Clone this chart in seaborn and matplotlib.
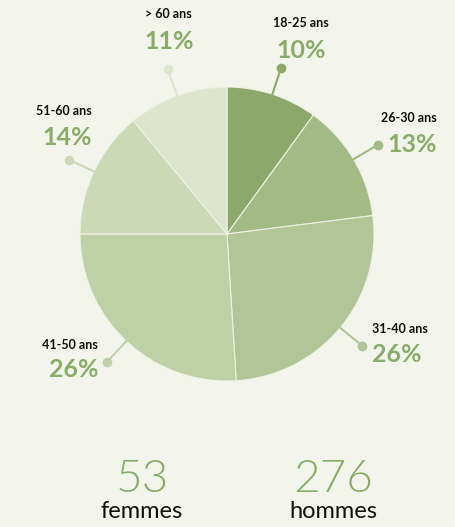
import numpy as np
import seaborn as sns
import matplotlib.pyplot as plt

# data
ages = ["18-25 ans", "26-30 ans", "31-40 ans", "41-50 ans", "51-60 ans", "> 60 ans"]
pct = [10, 13, 26, 26, 14, 11]
colors = ["#8aa96a", "#a2ba84", "#b2c596", "#c0d0a6", "#cdd9b6", "#dde5cc"]
counts = [53, 276]
genders = ["femmes", "hommes"]

bg = "#f3f5ec"
green = "#88ad68"

sns.set_style("white", {"axes.facecolor": bg, "figure.facecolor": bg})
plt.rcParams["font.family"] = ["Lato", "DejaVu Sans"]

W, H = 455, 527
cx, cy, R = 227, 234, 147

fig = plt.figure(figsize=(W / 100, H / 100), dpi=100)
ax = fig.add_axes([0, 0, 1, 1])

# y axis is inverted below, so counterclock in data = clockwise on screen
ax.pie(pct, colors=colors, startangle=-90, counterclock=True,
       center=(cx, cy), radius=R,
       wedgeprops=dict(edgecolor="#eef2e5", linewidth=0.8))
ax.set_xlim(0, W)
ax.set_ylim(H, 0)
ax.set_aspect("equal")
ax.axis("off")

# text anchors relative to each leader dot: (label dx, label dy, pct dx, pct dy, ha)
text_off = {
    "18-25 ans": (20, -45, 20, -17, "center"),
    "26-30 ans": (58, -27, 10, 0, "right_pct_left"),
    "31-40 ans": (10, -17, 10, 9, "left"),
    "41-50 ans": (-9, -17, -9, 8, "right"),
    "51-60 ans": (23, -49, 23, -22, "right"),
    "> 60 ans": (1, -55, 1, -28, "center"),
}

cum = np.cumsum(pct) / 100 * 360
mids = 90 - (cum - np.array(pct) * 3.6 / 2)
for age, p, c, th in zip(ages, pct, colors, mids):
    t = np.deg2rad(th)
    x0, y0 = cx + R * np.cos(t), cy - R * np.sin(t)
    x1, y1 = cx + 1.19 * R * np.cos(t), cy - 1.19 * R * np.sin(t)
    ax.plot([x0, x1], [y0, y1], color=c, lw=1.5, solid_capstyle="round")
    ax.plot(x1, y1, "o", color=c, ms=7, mec="none")
    ldx, ldy, pdx, pdy, ha = text_off[age]
    if ha == "right_pct_left":
        lha, pha = "right", "left"
        ldx = pdx + 49
    else:
        lha = pha = ha
    ax.text(x1 + ldx, y1 + ldy, age, ha=lha, va="center", fontsize=9,
            fontweight="bold", color="#111111")
    ax.text(x1 + pdx, y1 + pdy, f"{p}%", ha=pha, va="center", fontsize=18,
            fontweight="bold", color=green)

for xpos, n, g in zip([142, 333], counts, genders):
    ax.text(xpos, 480, str(n), ha="center", va="center", fontsize=33,
            fontweight=300, color=green)
    ax.text(xpos, 512, g, ha="center", va="center", fontsize=17,
            fontweight="normal", color="#111111")

fig.savefig("out.png", dpi=100, facecolor=bg)
